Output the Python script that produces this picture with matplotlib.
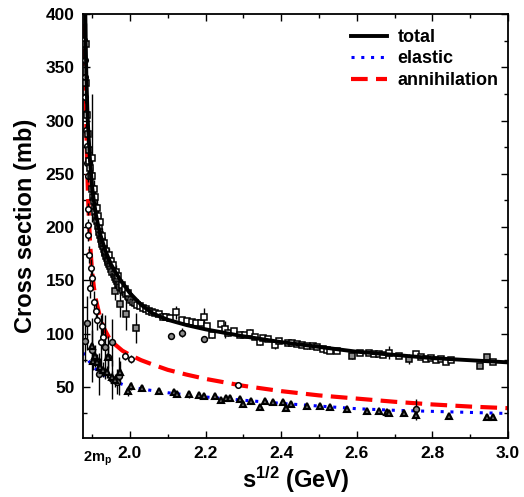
import matplotlib
matplotlib.use("Agg")
import matplotlib.pyplot as plt
from matplotlib.ticker import MultipleLocator

plt.rcParams['font.family'] = ['Liberation Sans', 'DejaVu Sans']
plt.rcParams['font.weight'] = 'bold'
plt.rcParams['mathtext.fontset'] = 'custom'
plt.rcParams['mathtext.bf'] = 'Liberation Sans:bold'
plt.rcParams['mathtext.rm'] = 'Liberation Sans:bold'
plt.rcParams['mathtext.it'] = 'Liberation Sans:bold'
plt.rcParams['mathtext.default'] = 'bf'

# model curves (sqrt(s) in GeV, sigma in mb)
tot_cx = [1.8815, 1.883, 1.885, 1.888, 1.89, 1.895, 1.90, 1.905, 1.91, 1.92, 1.935, 1.95, 1.975,
          2.0, 2.03, 2.06, 2.1, 2.15, 2.2, 2.3, 2.4, 2.5, 2.6, 2.7, 2.8, 2.9, 3.0]
tot_cy = [420, 375, 340, 305, 290, 260, 238, 224, 212, 195, 178, 165, 150,
          138, 127, 119, 113, 108, 104, 97.5, 92, 87.5, 83, 80, 77, 75, 73]

ann_cx = [1.8775, 1.879, 1.881, 1.883, 1.885, 1.887, 1.889, 1.892, 1.895, 1.90, 1.905, 1.91, 1.92,
          1.93, 1.945, 1.96, 1.98, 2.0, 2.03, 2.06, 2.1, 2.15, 2.2, 2.3, 2.4, 2.5, 2.6, 2.7, 2.8, 2.9, 3.0]
ann_cy = [450, 400, 362, 325, 290, 258, 232, 205, 183, 158, 143, 132, 117,
          106, 96, 90, 84, 80, 75, 71, 66, 61.5, 57.5, 51, 46, 42, 39, 36, 33.5, 31.5, 30]

el_cx = [1.876, 1.9, 1.925, 1.95, 1.975, 2.0, 2.05, 2.1, 2.2, 2.3, 2.4, 2.5, 2.6, 2.7, 2.8, 2.9, 3.0]
el_cy = [82, 70, 62, 57, 53, 50, 47, 44.5, 40.5, 37.5, 34.5, 32, 29.5, 28, 27, 26, 25]

# total cross section data (open squares)
tot_x = [1.883, 1.885, 1.887, 1.889, 1.891, 1.893, 1.895, 1.897, 1.899, 1.901, 1.903, 1.905, 1.907,
         1.909, 1.911, 1.913, 1.915, 1.917, 1.919, 1.921, 1.923, 1.925, 1.927, 1.929, 1.931, 1.933,
         1.935, 1.937, 1.939, 1.941, 1.943, 1.945, 1.948, 1.951, 1.954, 1.957, 1.960, 1.963, 1.966,
         1.969, 1.972, 1.975, 1.978, 1.982, 1.986, 1.990, 1.994, 1.998, 2.003, 2.008, 2.014, 2.020,
         2.027, 2.034, 2.042, 2.050, 2.058, 2.067, 2.077, 2.087, 2.096, 2.106, 2.122, 2.137, 2.150,
         2.164, 2.176, 2.187, 2.195, 2.205, 2.216, 2.242, 2.251, 2.260, 2.275, 2.292, 2.305, 2.318,
         2.331, 2.344, 2.352, 2.365, 2.383, 2.395, 2.417, 2.430, 2.443, 2.456, 2.469, 2.483, 2.496,
         2.510, 2.522, 2.530, 2.548, 2.608, 2.632, 2.645, 2.658, 2.670, 2.686, 2.713, 2.757, 2.770,
         2.783, 2.796, 2.809, 2.822, 2.835, 2.848, 2.961,
         1.900, 1.904, 1.908, 1.912, 1.916, 1.920, 1.926, 1.932, 1.938, 1.944, 1.950, 1.956, 1.962,
         1.968, 1.980, 1.988, 1.996]
tot_y = [372, 335, 305, 287, 272, 262, 255, 248, 265, 236, 228, 224, 218,
         214, 209, 206, 201, 199, 195, 193, 189, 187, 184, 182, 179, 177,
         176, 173, 171, 169, 167, 165, 163, 161, 158, 156, 153, 151, 149,
         147, 146, 144, 143, 141, 139, 137, 135, 134, 132, 130, 129, 127,
         126, 124, 123, 121, 120, 119, 118, 116, 116, 115, 120, 113, 112,
         111, 110, 110, 116, 107, 99, 109, 104, 101, 102, 99, 99, 101,
         97, 92, 96, 95, 89, 93, 91, 91, 90, 89, 88, 88, 87,
         86, 85, 84, 84, 82, 81.5, 81, 80.6, 80, 82, 79, 80.6, 78,
         76, 77, 75, 76, 73, 75, 73,
         248, 236, 228, 218, 210, 205, 192, 185, 178, 174, 168, 164, 158,
         154, 146, 142, 138]
tot_err = [20, 15, 14, 12, 12, 12, 10, 10, 60, 9, 9, 9, 8,
           8, 8, 8, 7, 7, 7, 7, 7, 7, 7, 6, 6, 6,
           6, 6, 6, 6, 6, 6, 6, 6, 6, 6, 6, 6, 5,
           5, 5, 5, 5, 5, 5, 5, 5, 5, 5, 4, 4, 4,
           4, 4, 4, 4, 3, 3, 3, 3, 3, 3, 6, 3, 3,
           3, 3, 3, 8, 3, 3, 3, 8, 3, 2, 3, 2, 3,
           2, 3, 2, 2, 3, 2, 3, 2, 2, 2, 2, 2, 2,
           2, 2, 2, 2, 2, 2, 2, 2, 2, 6, 2, 2, 2,
           2, 2, 2, 2, 2, 2, 2,
           8, 8, 8, 8, 7, 7, 7, 7, 6, 6, 6, 6, 6,
           6, 5, 5, 5]

# gray filled squares
gsq_x = [1.960, 1.975, 1.991, 2.017, 2.587, 2.739, 2.927, 2.945]
gsq_y = [140, 128, 118, 105, 79, 76, 70, 78]
gsq_err = [8, 12, 15, 14, 3, 5, 2, 2]

# gray filled circles
gci_x = [2.109, 2.137, 2.195, 1.881, 1.886, 1.899, 1.918, 1.933, 1.941, 1.952, 1.954, 1.965, 1.970, 2.757]
gci_y = [97.5, 101, 95, 93, 110, 85, 62, 87, 78, 92, 57, 55, 60, 29]
gci_err = [3, 4, 3, 20, 25, 30, 20, 30, 20, 22, 18, 12, 18, 10]

# annihilation data (open circles)
ann_x = [1.879, 1.880, 1.881, 1.882, 1.883, 1.885, 1.886, 1.887, 1.888, 1.889, 1.889, 1.890,
         1.893, 1.897, 1.900, 1.894, 1.905, 1.910, 1.914, 1.925, 1.928, 1.923, 1.986, 2.004, 2.287]
ann_y = [376, 357, 341, 322, 307, 291, 276, 260, 248, 217, 202, 193,
         174, 162, 152, 143, 130, 121, 113, 107, 97, 92, 79, 76, 51.5]
ann_err = [6, 6, 6, 6, 6, 6, 6, 6, 6, 6, 6, 6,
           8, 8, 8, 10, 10, 10, 10, 12, 12, 25, 4, 4, 2]

# elastic data (triangles)
el_x = [1.899, 1.907, 1.902, 1.912, 1.920, 1.928, 1.939, 1.941, 1.952, 1.960, 1.973, 1.994, 2.004,
        2.033, 2.077, 2.117, 2.124, 2.156, 2.182, 2.195, 2.226, 2.242, 2.255, 2.266, 2.292, 2.300,
        2.320, 2.344, 2.357, 2.378, 2.404, 2.412, 2.425, 2.469, 2.503, 2.530, 2.574, 2.626, 2.658,
        2.679, 2.686, 2.726, 2.757, 2.843, 2.945, 2.961]
el_y = [88, 79, 74, 73, 69, 66, 64, 78, 59, 56, 64, 46, 51,
        49, 46, 45, 43, 43, 42, 41, 41, 38, 40, 40, 38.5, 34,
        37, 31, 37, 36, 36, 30, 34, 32, 32, 31, 29, 27, 27,
        26, 25, 25, 24, 23, 22, 22]
el_err = [15, 10, 8, 8, 8, 7, 6, 10, 6, 6, 10, 5, 4,
          3, 3, 2, 2, 3, 2, 2, 2, 2, 2, 2, 2, 3,
          2, 2, 2, 2, 2, 2, 2, 2, 2, 2, 2, 2, 2,
          2, 2, 2, 3, 2, 2, 2]

fig = plt.figure(figsize=(5.24, 4.97), dpi=100)
ax = fig.add_axes([83/524, 1 - 438/497, 425/524, 424/497])

eb = dict(fmt='none', ecolor='black', elinewidth=1.0, capsize=0, zorder=3)
ax.errorbar(gci_x, gci_y, yerr=gci_err, **eb)
ax.errorbar(el_x, el_y, yerr=el_err, **eb)
ax.errorbar(ann_x, ann_y, yerr=ann_err, **eb)
ax.errorbar(gsq_x, gsq_y, yerr=gsq_err, **eb)
ax.errorbar(tot_x, tot_y, yerr=tot_err, **eb)

ax.plot(el_cx, el_cy, color='#0000ff', lw=2.2, ls=(0, (1, 2.2)), zorder=2, label='elastic')
ax.plot(ann_cx, ann_cy, color='#ff0000', lw=3, ls=(0, (4, 2)), zorder=2, label='annihilation')

mk = dict(ls='none', mec='black', mew=1.1, ms=4.2, zorder=4)
ax.plot(gci_x, gci_y, marker='o', mfc='0.55', **mk)
ax.plot(el_x, el_y, marker='^', mfc='0.4', **dict(mk, mew=1.5, ms=4))
ax.plot(ann_x, ann_y, marker='o', mfc='white', **dict(mk, ms=4))
ax.plot(gsq_x, gsq_y, marker='s', mfc='0.55', **mk)
ax.plot(tot_x, tot_y, marker='s', mfc='white', **mk)

ax.plot(tot_cx, tot_cy, color='black', lw=2.8, zorder=5, label='total')

ax.set_xlim(1.876, 3.0)
ax.set_ylim(2, 400)
ax.xaxis.set_minor_locator(MultipleLocator(0.1))
ax.yaxis.set_minor_locator(MultipleLocator(25))
ax.set_xticks([2.0, 2.2, 2.4, 2.6, 2.8, 3.0])
ax.set_xticklabels(['2.0', '2.2', '2.4', '2.6', '2.8', '3.0'])
ax.set_yticks([50, 100, 150, 200, 250, 300, 350, 400])
ax.tick_params(which='both', direction='in', top=True, right=True, labelsize=12.5, width=1.0)
ax.tick_params(which='major', length=5, pad=6)
ax.tick_params(which='minor', length=3)
for lab in ax.get_xticklabels() + ax.get_yticklabels():
    lab.set_fontweight('bold')
for s in ax.spines.values():
    s.set_linewidth(1.3)

ax.text(0.0, -0.027, r'$2m_p$', transform=ax.transAxes, ha='left', va='top', fontsize=10.5)

ax.set_xlabel(r'$s^{1/2}$ (GeV)', fontsize=17, fontweight='bold', labelpad=2)
ax.set_ylabel('Cross section (mb)', fontsize=17, fontweight='bold', labelpad=6)

h, l = ax.get_legend_handles_labels()
order = [l.index('total'), l.index('elastic'), l.index('annihilation')]
ax.legend([h[i] for i in order], [l[i] for i in order], loc='upper left',
          bbox_to_anchor=(0.63, 0.965), frameon=False, handlelength=2.0,
          handletextpad=0.6, labelspacing=0.25, borderpad=0, borderaxespad=0,
          prop={'weight': 'bold', 'size': 13})

fig.savefig('out.png', dpi=100)
